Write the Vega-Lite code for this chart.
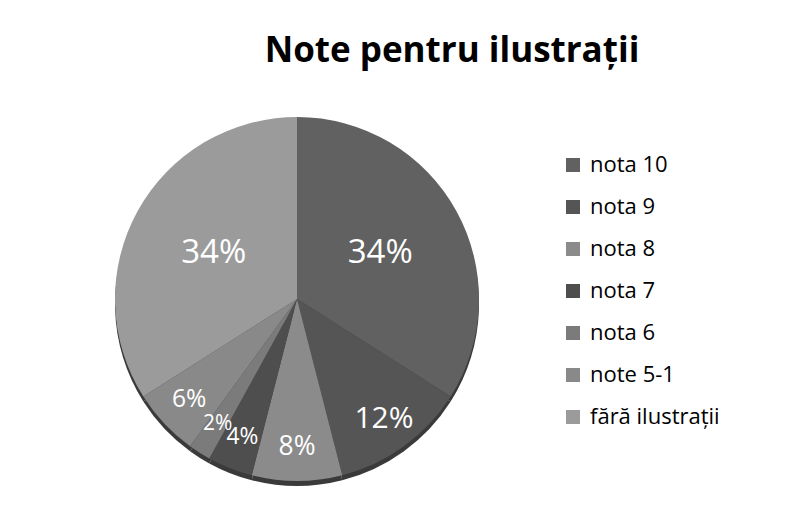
{
  "$schema": "https://vega.github.io/schema/vega-lite/v6.json",
  "autosize": {"type": "none"},
  "padding": {"left": 7, "top": 17, "right": 210, "bottom": 0},
  "width": 580,
  "height": 564,
  "background": "white",
  "title": {
    "text": "Note pentru ilustrații",
    "font": "Open Sans",
    "fontSize": 35,
    "fontWeight": "bold",
    "color": "black",
    "anchor": "middle",
    "dx": 155,
    "dy": 56
  },
  "data": {
    "values": [
      {"categorie": "nota 10", "procent": 34, "ordine": 1},
      {"categorie": "nota 9", "procent": 12, "ordine": 2},
      {"categorie": "nota 8", "procent": 8, "ordine": 3},
      {"categorie": "nota 7", "procent": 4, "ordine": 4},
      {"categorie": "nota 6", "procent": 2, "ordine": 5},
      {"categorie": "note 5-1", "procent": 6, "ordine": 6},
      {"categorie": "fără ilustrații", "procent": 34, "ordine": 7}
    ]
  },
  "transform": [
    {"calculate": "datum.procent + '%'", "as": "eticheta"}
  ],
  "encoding": {
    "theta": {"field": "procent", "type": "quantitative", "stack": true},
    "order": {"field": "ordine", "type": "quantitative"}
  },
  "layer": [
    {
      "mark": {"type": "arc", "outerRadius": 182, "yOffset": 5, "color": "#3a3a3a"}
    },
    {
      "mark": {"type": "arc", "outerRadius": 182},
      "encoding": {
        "color": {
          "field": "categorie",
          "type": "nominal",
          "sort": ["nota 10", "nota 9", "nota 8", "nota 7", "nota 6", "note 5-1", "fără ilustrații"],
          "scale": {
            "domain": ["nota 10", "nota 9", "nota 8", "nota 7", "nota 6", "note 5-1", "fără ilustrații"],
            "range": ["#616161", "#555555", "#8b8b8b", "#4e4e4e", "#7b7b7b", "#898989", "#9b9b9b"]
          },
          "legend": {
            "title": null,
            "orient": "none",
            "legendX": 555,
            "legendY": 137,
            "symbolType": "square",
            "symbolSize": 196,
            "symbolStrokeWidth": 0,
            "labelFont": "Open Sans",
            "labelFontSize": 22,
            "labelColor": "black",
            "labelLimit": 300,
            "rowPadding": 20,
            "labelOffset": 6
          }
        }
      }
    },
    {
      "mark": {"type": "text", "radius": 95, "font": "Open Sans", "fontSize": 33, "color": "white"},
      "encoding": {
        "text": {"condition": {"test": "datum.procent >= 30", "field": "eticheta"}, "value": ""}
      }
    },
    {
      "mark": {"type": "text", "radius": 148, "font": "Open Sans", "color": "white"},
      "encoding": {
        "text": {"condition": {"test": "datum.procent < 30", "field": "eticheta"}, "value": ""},
        "size": {"field": "procent", "type": "quantitative", "scale": {"domain": [2, 12], "range": [21, 30]}, "legend": null}
      }
    }
  ],
  "config": {"view": {"stroke": null}}
}
